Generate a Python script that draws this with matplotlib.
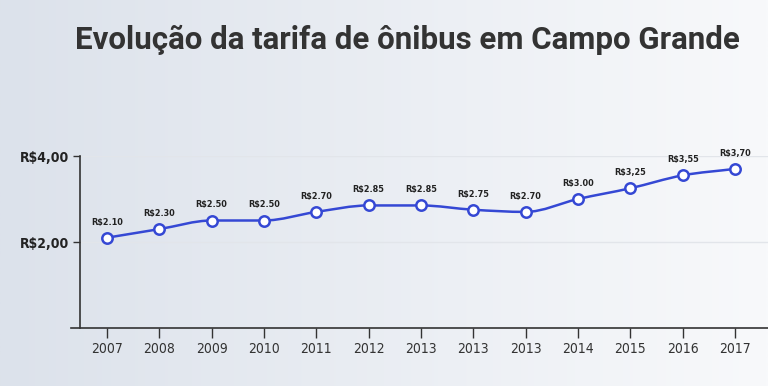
import numpy as np
import matplotlib
matplotlib.use("Agg")
import matplotlib.pyplot as plt
from matplotlib.path import Path
from matplotlib.patches import PathPatch

categories = ["2007", "2008", "2009", "2010", "2011", "2012", "2013",
              "2013", "2013", "2014", "2015", "2016", "2017"]
values = [2.10, 2.30, 2.50, 2.50, 2.70, 2.85, 2.85, 2.75, 2.70, 3.00, 3.25, 3.55, 3.70]
point_labels = ["R$2.10", "R$2.30", "R$2.50", "R$2.50", "R$2.70", "R$2.85", "R$2.85",
                "R$2.75", "R$2.70", "R$3.00", "R$3,25", "R$3,55", "R$3,70"]
y_ticks = [2.0, 4.0]
y_ticklabels = ["R$2,00", "R$4,00"]
title = "Evolução da tarifa de ônibus em Campo Grande"

W, H = 768, 386
fig = plt.figure(figsize=(W / 100, H / 100), dpi=100)

# gradient background
bg = fig.add_axes([0, 0, 1, 1], zorder=-10)
c_left = np.array([0xdc, 0xe2, 0xeb]) / 255
c_right = np.array([0xf8, 0xf9, 0xfb]) / 255
t = np.linspace(0, 1, 256)
grad = (c_left[None, :] * (1 - t[:, None]) + c_right[None, :] * t[:, None])[None, :, :]
bg.imshow(grad, aspect="auto", extent=[0, 1, 0, 1])
bg.set_axis_off()

cond = ["DejaVu Sans"]
stretch = "condensed"

# axes geometry in pixels
px_left, px_right = 71, 768
px_bottom, px_top = 386 - 328, 386 - 156
ax = fig.add_axes([px_left / W, px_bottom / H, (px_right - px_left) / W, (px_top - px_bottom) / H])
ax.patch.set_alpha(0)

step = (735 - 107) / 12
x0 = -(107 - px_left) / step
x1 = 12 + (px_right - 735) / step
ax.set_xlim(x0, x1)
ax.set_ylim(0, 4)

x = np.arange(len(values), dtype=float)
y = np.array(values)

# monotone cubic (curveMonotoneX style) path
n = len(x)
d = np.diff(y) / np.diff(x)
m = np.zeros(n)
m[0] = d[0]
m[-1] = d[-1]
for i in range(1, n - 1):
    if d[i - 1] * d[i] <= 0:
        m[i] = 0
    else:
        p = (d[i - 1] + d[i]) / 2
        m[i] = (np.sign(d[i - 1]) + np.sign(d[i])) * min(abs(d[i - 1]), abs(d[i]), 0.5 * abs(p))
verts = [(x[0], y[0])]
codes = [Path.MOVETO]
for i in range(n - 1):
    dx = (x[i + 1] - x[i]) / 3
    verts += [(x[i] + dx, y[i] + m[i] * dx), (x[i + 1] - dx, y[i + 1] - m[i + 1] * dx), (x[i + 1], y[i + 1])]
    codes += [Path.CURVE4] * 3
line_color = "#3548d4"
ax.add_patch(PathPatch(Path(verts, codes), facecolor="none", edgecolor=line_color, lw=1.8, zorder=3))
ax.plot(x, y, linestyle="none", marker="o", markersize=7.5, markerfacecolor="white",
        markeredgecolor=line_color, markeredgewidth=1.8, zorder=4, clip_on=False)

for xi, yi, lab in zip(x, y, point_labels):
    ax.annotate(lab, (xi, yi), xytext=(0, 8), textcoords="offset points", ha="center", va="bottom",
                fontsize=6.5, fontweight="bold", color="#222222", family=cond, fontstretch=stretch,
                zorder=5)

# spines
spine_x = -(107 - 80) / step
for s in ["top", "right"]:
    ax.spines[s].set_visible(False)
ax.spines["left"].set_position(("data", spine_x))
ax.spines["left"].set_color("#333333")
ax.spines["bottom"].set_color("#333333")
ax.spines["left"].set_linewidth(1.2)
ax.spines["bottom"].set_linewidth(1.2)

ax.set_yticks(y_ticks)
ax.set_yticklabels(y_ticklabels, family=cond, fontstretch=stretch, fontsize=10,
                   fontweight="bold", color="#222222")
ax.set_xticks(x)
ax.set_xticklabels(categories, family=cond, fontstretch=stretch, fontsize=10, color="#333333")
ax.tick_params(axis="y", length=5, width=1, color="#333333", pad=3)
ax.tick_params(axis="x", length=7, width=1, color="#333333", pad=3)

for yt in y_ticks:
    ax.plot([spine_x, x1], [yt, yt], color="#e2e5ea", lw=1, zorder=1)

fig.text(407 / W, 1 - 40 / H, title, ha="center", va="center", fontsize=22.5,
         fontweight="bold", color="#333333", family=["Roboto", "DejaVu Sans"])

fig.savefig("out.png", dpi=100)
